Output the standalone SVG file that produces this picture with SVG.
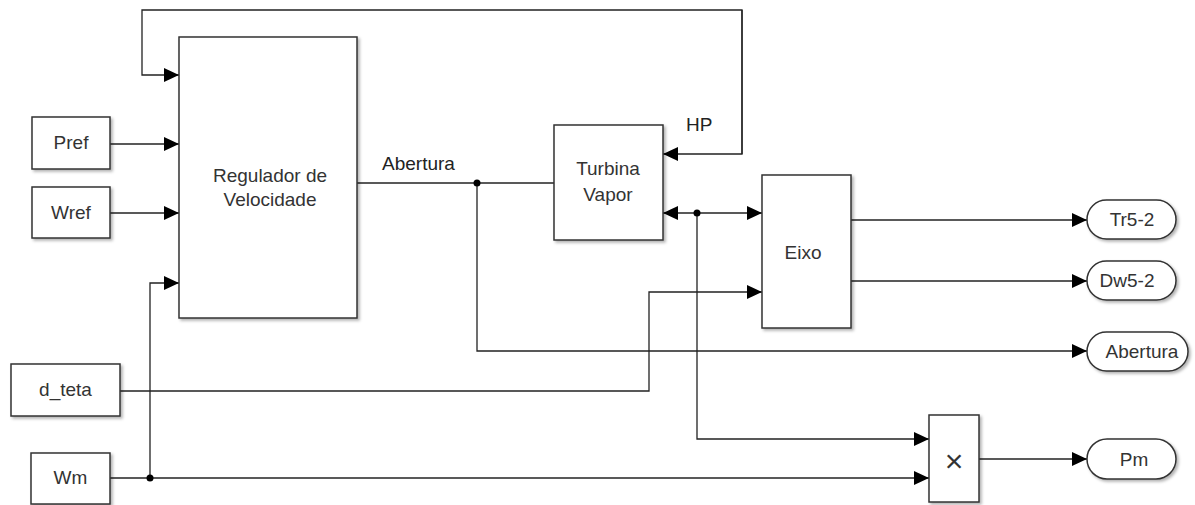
<svg xmlns="http://www.w3.org/2000/svg" width="1195" height="505" viewBox="0 0 1195 505">
<style>
.blk{fill:#fff;stroke:#333;stroke-width:1.5;filter:url(#sh)}
.t{font-family:"Liberation Sans",Arial,sans-serif;font-size:19px;fill:#333;text-anchor:middle}
.lb{font-family:"Liberation Sans",Arial,sans-serif;font-size:19px;fill:#222}
.w{fill:none;stroke:#222;stroke-width:1.3}
.a{marker-end:url(#ar)}
.dot{fill:#000}
</style>
<defs>
<filter id="sh" x="-10%" y="-10%" width="130%" height="130%">
<feDropShadow dx="2" dy="2" stdDeviation="1.5" flood-color="#000" flood-opacity="0.3"/>
</filter>
<marker id="ar" markerUnits="userSpaceOnUse" markerWidth="16" markerHeight="16" viewBox="0 0 16 16" refX="15" refY="8" orient="auto">
<path d="M0,1 L15,8 L0,15 Z" fill="#000"/>
</marker>
<marker id="arS" markerUnits="userSpaceOnUse" markerWidth="16" markerHeight="16" viewBox="0 0 16 16" refX="15" refY="8" orient="auto-start-reverse">
<path d="M0,1 L15,8 L0,15 Z" fill="#000"/>
</marker>
</defs>
<rect width="1195" height="505" fill="#fff"/>
<g id="connectors">
<path class="w a" d="M742,154 L742,10 L142,10 L142,75 L179,75"/>
<path class="w a" d="M742,10 L742,154 L663,154"/>
<path class="w a" d="M110,144 L179,144"/>
<path class="w a" d="M110,213 L179,213"/>
<path class="w a" d="M150,478 L150,283 L179,283"/>
<path class="w" d="M357,183 L554,183"/>
<path class="w a" d="M477,183 L477,351 L1087,351"/>
<path class="w" d="M663,213 L762,213" style="marker-start:url(#arS);marker-end:url(#ar)"/>
<path class="w a" d="M697,213 L697,439 L929,439"/>
<path class="w a" d="M120,391 L649,391 L649,292 L762,292"/>
<path class="w a" d="M110,478 L929,478"/>
<path class="w a" d="M851,220 L1087,220"/>
<path class="w a" d="M851,281 L1087,281"/>
<path class="w a" d="M979,459 L1087,459"/>
<circle class="dot" cx="477" cy="183" r="3.5"/>
<circle class="dot" cx="697" cy="213" r="3.5"/>
<circle class="dot" cx="150" cy="478" r="3.5"/>
<text class="lb" x="382" y="170">Abertura</text>
<text class="lb" x="686" y="131">HP</text>
</g>
<g id="pref"><rect class="blk" x="32" y="117" width="78" height="52"/><text class="t" x="71" y="149">Pref</text></g>
<g id="wref"><rect class="blk" x="32" y="187" width="78" height="51"/><text class="t" x="71" y="219">Wref</text></g>
<g id="dteta"><rect class="blk" x="11" y="364" width="109" height="52"/><text class="t" x="65.5" y="396">d_teta</text></g>
<g id="wm"><rect class="blk" x="31" y="453" width="79" height="51"/><text class="t" x="70.5" y="484">Wm</text></g>
<g id="regulador"><rect class="blk" x="179" y="37" width="178" height="281"/><text class="t" x="270" y="182">Regulador de</text><text class="t" x="270" y="206">Velocidade</text></g>
<g id="turbina"><rect class="blk" x="554" y="125" width="109" height="115"/><text class="t" x="608" y="175">Turbina</text><text class="t" x="608" y="201">Vapor</text></g>
<g id="eixo"><rect class="blk" x="762" y="175" width="89" height="153"/><text class="t" x="803" y="259">Eixo</text></g>
<g id="produto"><rect class="blk" x="929" y="415" width="50" height="87"/><text class="t" x="954" y="472" style="font-size:32px;font-weight:300">×</text></g>
<g id="tr52"><rect class="blk" x="1087" y="200" width="89" height="39" rx="19.5"/><text class="t" x="1132" y="226">Tr5-2</text></g>
<g id="dw52"><rect class="blk" x="1087" y="261" width="89" height="39" rx="19.5"/><text class="t" x="1127" y="287">Dw5-2</text></g>
<g id="abertura"><rect class="blk" x="1087" y="332" width="101" height="39" rx="19.5"/><text class="t" x="1142" y="358">Abertura</text></g>
<g id="pm"><rect class="blk" x="1087" y="439" width="89" height="40" rx="20"/><text class="t" x="1134" y="466">Pm</text></g>
</svg>
